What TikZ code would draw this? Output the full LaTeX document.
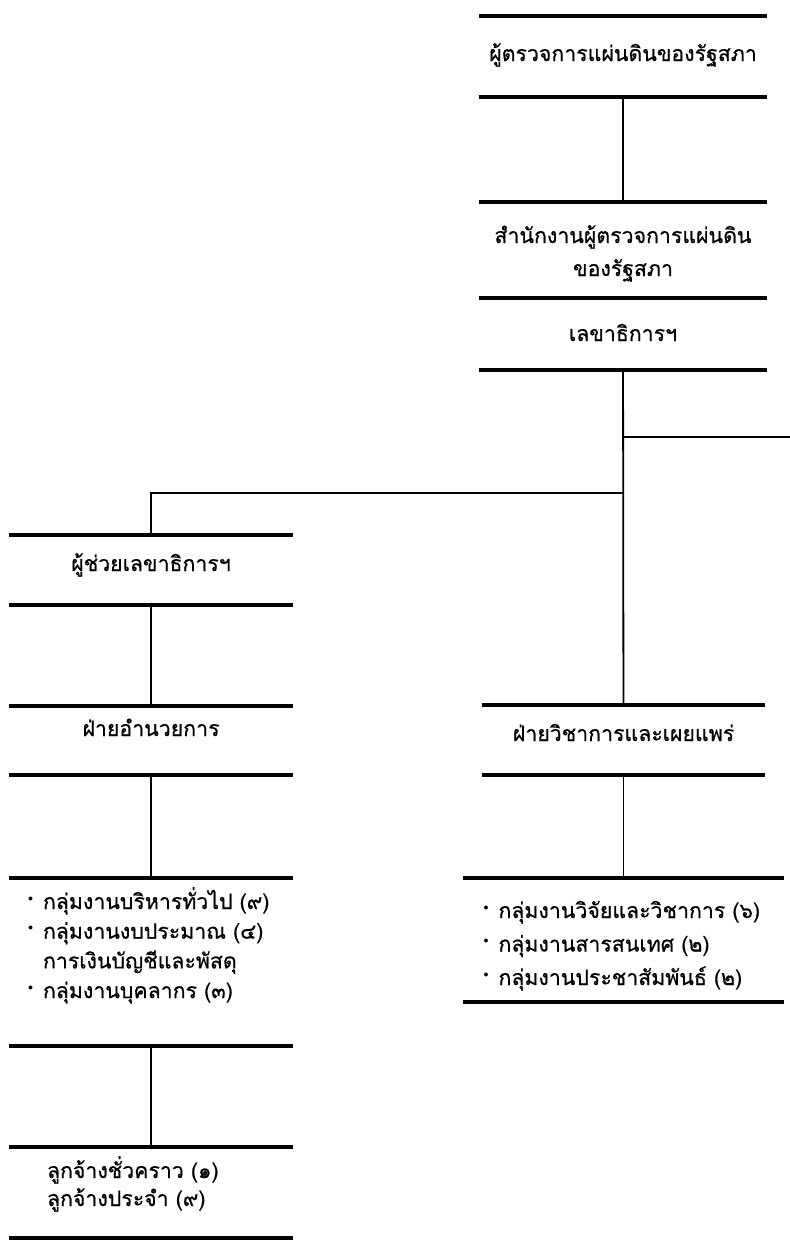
\documentclass[tikz,border=0pt]{standalone}
\usepackage{fontspec}
\newfontfamily\thaifont[Script=Thai,FakeBold=0.6]{Loma}

\newcommand\thaisize[1]{\thaifont\fontsize{21.3}{#1}\selectfont\lineskiplimit=-40pt\relax}
\newcommand\itemdot{\makebox[15pt][l]{\raisebox{8pt}{\fontsize{10}{10}\selectfont$\bullet$}}}

\tikzset{
  bar/.style={line width=4.5pt},
  link/.style={line width=1.8pt},
  unit/.style={font=\thaisize{33pt}, inner sep=0pt, align=center},
  list/.style={unit, align=left},
}

\begin{document}
\begin{tikzpicture}[x=1pt,y=-1pt]
\useasboundingbox (0,0) rectangle (790,1240);

% top column
\node[unit, minimum width=288pt, text height=45pt, text depth=36pt] (ombud) at (623,56.5) {ผู้ตรวจการแผ่นดินของรัฐสภา};
\node[unit, text width=288pt, text height=41pt, text depth=55pt] (office) at (623,250) {สำนักงานผู้ตรวจการแผ่นดิน\\ของรัฐสภา};
\node[unit, minimum width=288pt, text height=43pt, text depth=29pt] (secretary) at (623,334) {เลขาธิการฯ};

% left column
\node[unit, minimum width=284pt, text height=36pt, text depth=34pt] (assistant) at (151,570) {ผู้ช่วยเลขาธิการฯ};
\node[unit, minimum width=284pt, text height=30pt, text depth=39pt] (admin) at (151,740.5) {ฝ่ายอำนวยการ};
\node[list, text width=246pt, inner xsep=19pt, text height=31pt, text depth=137pt, font=\thaisize{29.7pt}] (admingroups) at (151,962)
  {\itemdot กลุ่มงานบริหารทั่วไป~(๙)\\
   \itemdot กลุ่มงานงบประมาณ~(๔)\\
   \phantom{\itemdot}การเงินบัญชีและพัสดุ\\
   \itemdot กลุ่มงานบุคลากร~(๓)};
\node[list, text width=208pt, inner xsep=38pt, text height=31pt, text depth=60pt, font=\thaisize{28pt}] (staff) at (151,1192.5)
  {ลูกจ้างชั่วคราว~(๑)\\ลูกจ้างประจำ~(๙)};

% right column
\node[unit, minimum width=282pt, text height=36pt, text depth=34pt] (academic) at (623.5,740) {ฝ่ายวิชาการและเผยแพร่};
\node[list, text width=280pt, inner xsep=20pt, text height=40pt, text depth=84pt, font=\thaisize{33.5pt}] (acadgroups) at (623.5,940)
  {\itemdot กลุ่มงานวิจัยและวิชาการ~(๖)\\
   \itemdot กลุ่มงานสารสนเทศ~(๒)\\
   \itemdot กลุ่มงานประชาสัมพันธ์~(๒)};

% bars above and below each unit
\foreach \n in {ombud,office,secretary,assistant,admin,admingroups,staff,academic,acadgroups}
  \draw[bar] (\n.north west) -- (\n.north east) (\n.south west) -- (\n.south east);

% connectors
\coordinate (rsplit) at (623.5,437);
\coordinate (rend) at (790,437);
\coordinate (lsplit) at (623.5,493);

\draw[link] (ombud) -- (office);
\draw[link] (secretary) -- (academic);
\draw[link] (rsplit) -- (rend);
\draw[link] (lsplit) -| (assistant);
\draw[link] (assistant) -- (admin);
\draw[link] (admin) -- (admingroups);
\draw[link] (admingroups) -- (staff);
\draw[link] (academic) -- (acadgroups);
\end{tikzpicture}
\end{document}
